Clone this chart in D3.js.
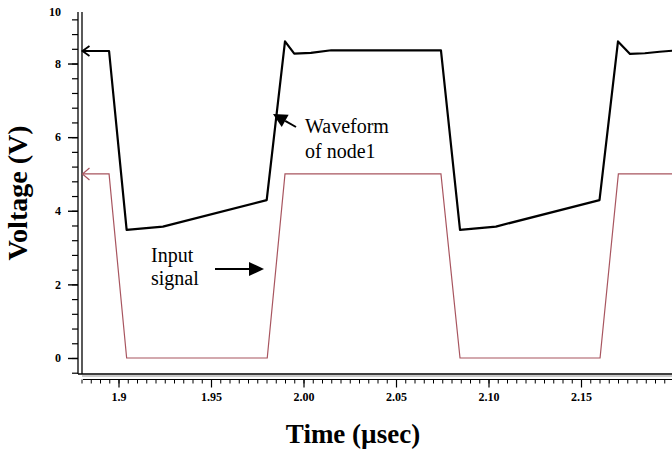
<!DOCTYPE html>
<html>
<head>
<meta charset="utf-8">
<script src="https://cdn.jsdelivr.net/npm/d3@7"></script>
<style>
  html, body { margin: 0; padding: 0; background: #fff; }
  svg { display: block; }
  .tick text { font-family: "Liberation Serif", "Times New Roman", serif; font-weight: bold; font-size: 12px; fill: #000; }
</style>
</head>
<body>
<svg id="chart" width="672" height="452"></svg>
<script>
// ---- data ----
const node1Time = [1.8808, 1.8949, 1.9044, 1.9240, 1.9801, 1.9900, 1.9950, 2.0040, 2.0150, 2.0743, 2.0846, 2.1040, 2.1600, 2.1700, 2.1765, 2.1845, 2.1925, 2.2000];
const node1Volt = [8.34, 8.34, 3.48, 3.57, 4.29, 8.60, 8.27, 8.29, 8.36, 8.36, 3.48, 3.57, 4.29, 8.60, 8.26, 8.28, 8.32, 8.35];
const inputTime = [1.8808, 1.8949, 1.9044, 1.9804, 1.9900, 2.0743, 2.0846, 2.1603, 2.1702, 2.2000];
const inputVolt = [5, 5, 0, 0, 5, 5, 0, 0, 5, 5];

const xMajorTicks = [1.9, 1.95, 2.00, 2.05, 2.10, 2.15];
const xTickLabels = ["1.9", "1.95", "2.00", "2.05", "2.10", "2.15"];
const yMajorTicks = [0, 2, 4, 6, 8];
const yTickLabels = ["0", "2", "4", "6", "8", "10"];
const yLabelValues = [0, 2, 4, 6, 8, 10];

const xTitle = "Time (\u00B5sec)";
const yTitle = "Voltage (V)";
const annotWave = ["Waveform", "of node1"];
const annotInput = ["Input", "signal"];

// ---- layout ----
const svg = d3.select("#chart");
const fontSerif = '"Liberation Serif", "Times New Roman", serif';
const maroon = "#a8555f";

const x = d3.scaleLinear().domain([1.9, 2.15]).range([118.5, 581]);
const y = d3.scaleLinear().domain([-0.435, 9.4]).range([374, 12]);

// minor tick arrays (axis ticks)
const xMinor = d3.range(376, 441).map(i => +(i * 0.005).toFixed(3));
const yMinor = d3.range(-1, 24).map(i => +(i * 0.4).toFixed(1));

// ---- frame ----
const yTopPx = y(9.4), yBotPx = y(-0.435);
svg.append("line").attr("x1", 78).attr("x2", 78).attr("y1", yTopPx).attr("y2", yBotPx)
  .attr("stroke", "#000").attr("stroke-width", 1.3);
svg.append("line").attr("x1", 82).attr("x2", 82).attr("y1", yTopPx).attr("y2", yBotPx)
  .attr("stroke", "#000").attr("stroke-width", 1.3);
svg.append("line").attr("x1", 78).attr("x2", 672).attr("y1", yBotPx).attr("y2", yBotPx)
  .attr("stroke", "#000").attr("stroke-width", 1.6);
svg.append("line").attr("x1", 82).attr("x2", 672).attr("y1", yBotPx + 2).attr("y2", yBotPx + 2)
  .attr("stroke", "#777").attr("stroke-width", 0.8);

// ---- x axis ----
const xAxisY = 379.5;
const gxMinor = svg.append("g").attr("transform", `translate(0,${xAxisY})`)
  .call(d3.axisBottom(x).tickValues(xMinor).tickSize(4).tickFormat(""));
gxMinor.select(".domain").remove();
gxMinor.selectAll(".tick line").attr("stroke", "#000").attr("stroke-width", 1);
svg.append("line").attr("x1", x(1.8808)).attr("x2", 672).attr("y1", xAxisY).attr("y2", xAxisY)
  .attr("stroke", "#000").attr("stroke-width", 1.2);
const gxMajor = svg.append("g").attr("transform", `translate(0,${xAxisY})`)
  .call(d3.axisBottom(x).tickValues(xMajorTicks).tickSize(8).tickPadding(4.5)
    .tickFormat((d, i) => xTickLabels[i]));
gxMajor.select(".domain").remove();
gxMajor.selectAll(".tick line").attr("stroke", "#000").attr("stroke-width", 1.2);

// ---- y axis ----
const gyMinor = svg.append("g").attr("transform", "translate(78,0)")
  .call(d3.axisLeft(y).tickValues(yMinor).tickSize(6).tickFormat(""));
gyMinor.select(".domain").remove();
gyMinor.selectAll(".tick line").attr("stroke", "#000").attr("stroke-width", 1.2);
const gyMajor = svg.append("g").attr("transform", "translate(78,0)")
  .call(d3.axisLeft(y).tickValues(yMajorTicks).tickSize(10).tickFormat(""));
gyMajor.select(".domain").remove();
gyMajor.selectAll(".tick line").attr("stroke", "#000").attr("stroke-width", 1.4);

svg.append("g").selectAll("text").data(yLabelValues).join("text")
  .attr("x", 61)
  .attr("y", d => y(Math.min(d, 9.4)))
  .attr("dy", "0.35em")
  .attr("text-anchor", "end")
  .attr("font-family", fontSerif).attr("font-weight", "bold").attr("font-size", 12)
  .text((d, i) => yTickLabels[i]);

// ---- titles ----
svg.append("text").attr("x", 353).attr("y", 443).attr("text-anchor", "middle")
  .attr("font-family", fontSerif).attr("font-weight", "bold").attr("font-size", 27)
  .text(xTitle);
svg.append("text").attr("transform", "translate(27,193) rotate(-90)").attr("text-anchor", "middle")
  .attr("font-family", fontSerif).attr("font-weight", "bold").attr("font-size", 28)
  .text(yTitle);

// ---- series ----
const lineGen = d3.line().x(d => x(d[0])).y(d => y(d[1]));
const inputPts = inputTime.map((t, i) => [t, inputVolt[i]]);
const nodePts = node1Time.map((t, i) => [t, node1Volt[i]]);

svg.append("path").datum(inputPts).attr("d", lineGen)
  .attr("fill", "none").attr("stroke", maroon).attr("stroke-width", 1.2);
svg.append("path").datum(nodePts).attr("d", lineGen)
  .attr("fill", "none").attr("stroke", "#000").attr("stroke-width", 2.2).attr("stroke-linejoin", "round");

// open chevron markers at start of each trace
function chevron(px, py, color, w, len, half) {
  svg.append("path")
    .attr("d", `M${px + len},${py - half} L${px},${py} L${px + len},${py + half}`)
    .attr("fill", "none").attr("stroke", color).attr("stroke-width", w);
}
chevron(x(node1Time[0]) - 0.5, y(node1Volt[0]), "#000", 1.8, 7, 5);
chevron(x(inputTime[0]) - 0.5, y(inputVolt[0]), maroon, 1.2, 7, 6);

// ---- annotations ----
function arrow(x1, y1, x2, y2, headLen, headHalf) {
  const ang = Math.atan2(y2 - y1, x2 - x1);
  const bx = x2 - headLen * Math.cos(ang), by = y2 - headLen * Math.sin(ang);
  svg.append("line").attr("x1", x1).attr("y1", y1).attr("x2", bx).attr("y2", by)
    .attr("stroke", "#000").attr("stroke-width", 2);
  const px = -Math.sin(ang), py = Math.cos(ang);
  svg.append("path")
    .attr("d", `M${x2},${y2} L${bx + px * headHalf},${by + py * headHalf} L${bx - px * headHalf},${by - py * headHalf} Z`)
    .attr("fill", "#000");
}
arrow(296, 127, 273, 114, 14, 7);
arrow(215, 269, 264, 269, 15, 7);

svg.append("g").selectAll("text").data(annotWave).join("text")
  .attr("x", 305).attr("y", (d, i) => 133 + i * 25)
  .attr("font-family", fontSerif).attr("font-size", 20).text(d => d);
svg.append("g").selectAll("text").data(annotInput).join("text")
  .attr("x", 151).attr("y", (d, i) => 262 + i * 23)
  .attr("font-family", fontSerif).attr("font-size", 20).text(d => d);
</script>
</body>
</html>
